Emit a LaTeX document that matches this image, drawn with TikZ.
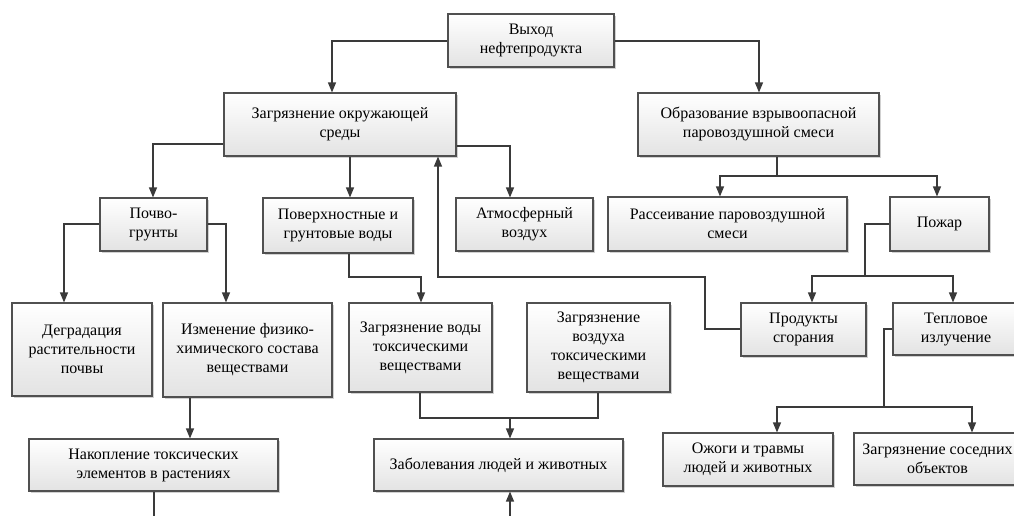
\documentclass[tikz,border=0pt]{standalone}
\usepackage{fontspec}
\setmainfont{Liberation Serif}
\usetikzlibrary{arrows.meta,shadows}
\definecolor{boxline}{HTML}{505050}
\definecolor{lnc}{HTML}{3A3A3A}
\newcommand\mybox[6]{\node[box,minimum width={(#4-#2)*1pt},minimum height={(#5-#3)*1pt}] (#1) at ({(#2+#4)/2},{(#3+#5)/2}) {#6};}
\begin{document}
\begin{tikzpicture}[x=1pt,y=-1pt,
  box/.style={draw=boxline,line width=1.1pt,top color=white,bottom color=black!11,
    drop shadow={shadow xshift=1.6pt,shadow yshift=-1.6pt,opacity=0.3,fill=black!60},
    align=center,inner sep=0pt,font=\fontsize{16}{19}\selectfont},
  conn/.style={draw=lnc,line width=1.2pt},
  arr/.style={conn,-{Triangle[length=10pt,width=8pt]}}]
\clip (0,0) rectangle (1014,516);
% boxes
\mybox{out}{448}{14}{614}{67}{Выход\\нефтепродукта}
\mybox{env}{224}{93}{456}{156}{Загрязнение окружающей\\среды}
\mybox{expl}{638}{93}{879}{156}{Образование взрывоопасной\\паровоздушной смеси}
\mybox{soil}{100}{198}{207}{251}{Почво-\\грунты}
\mybox{water}{263}{198}{413}{253}{Поверхностные и\\грунтовые воды}
\mybox{air}{456}{198}{593}{251}{Атмосферный\\воздух}
\mybox{disp}{608}{197}{847}{251}{Рассеивание паровоздушной\\смеси}
\mybox{fire}{890}{197}{989}{251}{Пожар}
\mybox{degr}{12}{303}{152}{396}{Деградация\\растительности\\почвы}
\mybox{chem}{163}{303}{332}{397}{Изменение физико-\\химического состава\\веществами}
\mybox{wpol}{349}{303}{492}{392}{Загрязнение воды\\токсическими\\веществами}
\mybox{apol}{527}{303}{670}{392}{Загрязнение\\воздуха\\токсическими\\веществами}
\mybox{comb}{741}{303}{866}{356}{Продукты\\сгорания}
\mybox{heat}{893}{303}{1019}{355}{Тепловое\\излучение}
\mybox{accum}{29}{439}{278}{491}{Накопление токсических\\элементов в растениях}
\mybox{ill}{374}{439}{623}{491}{Заболевания людей и животных}
\mybox{burn}{663}{433}{833}{486}{Ожоги и травмы\\людей и животных}
\mybox{neigh}{854}{433}{1021}{485}{Загрязнение соседних\\объектов}
% connectors
\draw[arr] (out.west |- 0,41) -| (env.north -| 332,0);
\draw[arr] (out.east |- 0,41) -| (expl.north -| 759,0);
\draw[arr] (env.west |- 0,144) -| (soil.north -| 153,0);
\draw[arr] (env.south -| 350,0) -- (water.north -| 350,0);
\draw[arr] (env.east |- 0,146) -| (air.north -| 510,0);
\coordinate (e1) at (777,176);
\draw[conn] (expl.south -| e1) -- (e1);
\draw[arr] (e1) -| (disp.north -| 720,0);
\draw[arr] (e1) -| (fire.north -| 937,0);
\coordinate (f1) at (865,276);
\draw[conn] (fire.west |- 0,224) -| (f1);
\draw[arr] (f1) -| (comb.north -| 812,0);
\draw[arr] (f1) -| (heat.north -| 953,0);
\draw[arr] (soil.west |- 0,224) -| (degr.north -| 64,0);
\draw[arr] (soil.east |- 0,224) -| (chem.north -| 226,0);
\coordinate (v1) at (421,277);
\draw[arr] (water.south -| 349,0) |- (v1) -- (wpol.north -| v1);
\coordinate (c1) at (705,329);
\coordinate (c2) at (705,277);
\coordinate (c3) at (438,277);
\draw[arr] (comb.west |- c1) -- (c1) -- (c2) -- (c3) -- (env.south -| c3);
\coordinate (h1) at (884,407);
\draw[conn] (heat.west |- 0,329) -| (h1);
\draw[arr] (h1) -| (burn.north -| 777,0);
\draw[arr] (h1) -| (neigh.north -| 972,0);
\draw[arr] (chem.south -| 190,0) -- (accum.north -| 190,0);
\coordinate (w1) at (510,418);
\draw[conn] (wpol.south -| 420,0) |- (w1) -| (apol.south -| 598,0);
\draw[arr] (w1) -- (ill.north -| w1);
\coordinate (b1) at (154,516);
\draw[conn] (accum.south -| b1) -- (b1);
\coordinate (b2) at (510,516);
\draw[arr] (b2) -- (ill.south -| b2);
\end{tikzpicture}
\end{document}
